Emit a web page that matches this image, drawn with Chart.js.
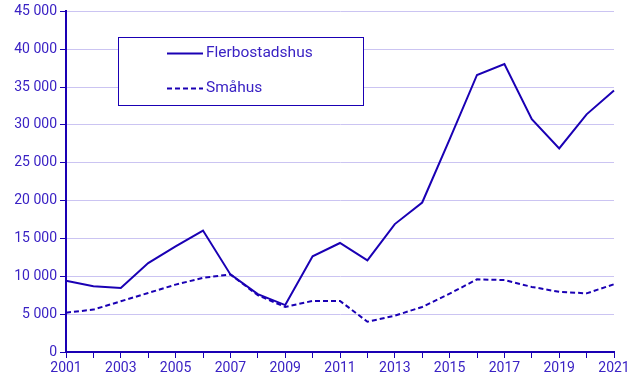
<!DOCTYPE html>
<html>
<head>
<meta charset="utf-8">
<script src="https://cdn.jsdelivr.net/npm/chart.js@4"></script>
<style>
  html, body { margin: 0; padding: 0; background: #fff; }
  #wrap { width: 640px; height: 384px; }
</style>
</head>
<body>
<div id="wrap"><canvas id="c"></canvas></div>
<script>
const years = ['2001','2002','2003','2004','2005','2006','2007','2008','2009','2010','2011',
               '2012','2013','2014','2015','2016','2017','2018','2019','2020','2021'];
const flerbostadshus = [9400, 8700, 8450, 11750, 13950, 16050, 10250, 7650, 6200, 12650, 14400,
                        12100, 16900, 19750, 28100, 36600, 38050, 30750, 26900, 31400, 34550];
const smahus = [5200, 5600, 6700, 7800, 8900, 9800, 10250, 7500, 5950, 6750, 6750,
                4000, 4800, 5950, 7700, 9600, 9500, 8600, 7950, 7750, 8950];
const yTicks = [0, 5000, 10000, 15000, 20000, 25000, 30000, 35000, 40000, 45000];

const LINE = '#1a00b4';
const TEXT = '#3a22c4';
const GRID = '#cbc4f2';
const FONT = 'Roboto, "Open Sans", sans-serif';

function fmt(v) {
    return String(v).replace(/\B(?=(\d{3})+(?!\d))/g, ' ');
}

// legend box drawn inside the plot, top left
const boxLegend = {
    id: 'boxLegend',
    afterDraw(chart) {
        const ctx = chart.ctx;
        ctx.save();
        ctx.strokeStyle = LINE;
        ctx.lineWidth = 1;
        ctx.fillStyle = '#fff';
        ctx.fillRect(118.5, 37.5, 245, 68);
        ctx.strokeRect(118.5, 37.5, 245, 68);
        const rows = [53, 88];
        chart.data.datasets.forEach((ds, i) => {
            const y = rows[i] + 0.5;
            ctx.beginPath();
            ctx.strokeStyle = ds.borderColor;
            ctx.lineWidth = 2;
            ctx.setLineDash(ds.borderDash || []);
            ctx.moveTo(167, y);
            ctx.lineTo(203, y);
            ctx.stroke();
            ctx.setLineDash([]);
            ctx.fillStyle = TEXT;
            ctx.font = '15.5px ' + FONT;
            ctx.textBaseline = 'middle';
            ctx.fillText(ds.label, 206, rows[i]);
        });
        ctx.restore();
    }
};

new Chart(document.getElementById('c'), {
    type: 'line',
    data: {
        labels: years,
        datasets: [
            {
                label: 'Flerbostadshus',
                data: flerbostadshus,
                borderColor: LINE,
                borderWidth: 2,
                pointRadius: 0,
                tension: 0,
                fill: false
            },
            {
                label: 'Småhus',
                data: smahus,
                borderColor: LINE,
                borderWidth: 2,
                borderDash: [5, 3],
                pointRadius: 0,
                tension: 0,
                fill: false
            }
        ]
    },
    options: {
        responsive: true,
        maintainAspectRatio: false,
        animation: false,
        layout: { padding: { top: 10, right: 26, left: 0, bottom: 0 } },
        plugins: {
            legend: { display: false },
            tooltip: { enabled: false }
        },
        scales: {
            x: {
                offset: false,
                grid: {
                    display: true,
                    drawOnChartArea: false,
                    drawTicks: true,
                    tickLength: 6,
                    color: LINE
                },
                border: { display: true, color: LINE, width: 2 },
                ticks: {
                    autoSkip: false,
                    maxRotation: 0,
                    color: TEXT,
                    font: { family: FONT, size: 14 },
                    padding: 2,
                    callback(v, i) { return i % 2 === 0 ? years[i] : ''; }
                },
                afterFit(s) { s.height = 32; }
            },
            y: {
                min: 0,
                max: 45000,
                afterBuildTicks(s) { s.ticks = yTicks.map(v => ({ value: v })); },
                grid: {
                    color: GRID,
                    tickColor: LINE,
                    tickLength: 6,
                    lineWidth: 1
                },
                border: { display: true, color: LINE, width: 2 },
                ticks: {
                    color: TEXT,
                    font: { family: FONT, size: 14 },
                    padding: 3,
                    callback(v) { return fmt(v); }
                },
                afterFit(s) { s.width = 66; }
            }
        }
    },
    plugins: [boxLegend]
});
</script>
</body>
</html>
